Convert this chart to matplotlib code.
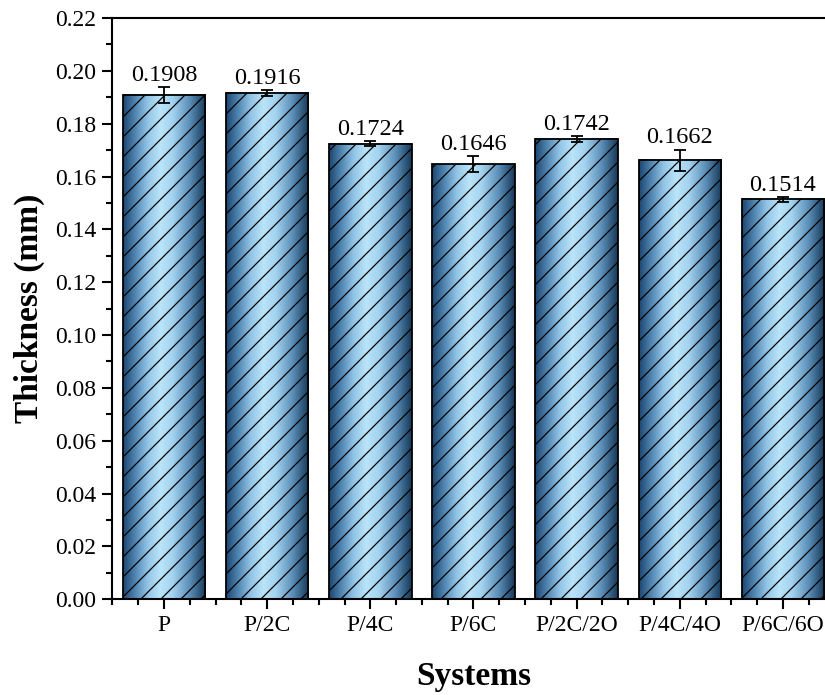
import numpy as np
import matplotlib
matplotlib.use("Agg")
import matplotlib.pyplot as plt
from matplotlib.colors import LinearSegmentedColormap
from matplotlib.ticker import MultipleLocator, FormatStrFormatter

systems = ["P", "P/2C", "P/4C", "P/6C", "P/2C/2O", "P/4C/4O", "P/6C/6O"]
thickness = [0.1908, 0.1916, 0.1724, 0.1646, 0.1742, 0.1662, 0.1514]
errors = [0.003, 0.001, 0.001, 0.003, 0.001, 0.004, 0.0009]

# render at 120 dpi so the hatch spacing matches; sizes below are scaled back
DPI = 120
k = 100 / DPI

plt.rcParams["font.family"] = ["Liberation Serif", "DejaVu Serif"]
plt.rcParams["hatch.linewidth"] = 0.9 * k
plt.rcParams["hatch.color"] = "black"

fig = plt.figure(figsize=(825 / DPI, 695 / DPI), dpi=DPI)
ax = fig.add_axes([0.1362, 0.1377, 0.8754, 0.8364])

# horizontal gradient for the bar fill: dark edges, light centre
cmap = LinearSegmentedColormap.from_list(
    "bar", [(0.0, "#1b4670"), (0.15, "#5287b2"), (0.3, "#92c5e6"),
            (0.45, "#bae4f9"), (0.6, "#a3d3ef"), (0.8, "#5d90b9"), (1.0, "#153859")])
grad = np.linspace(0, 1, 256).reshape(1, -1)

x = np.arange(len(systems))
width = 0.8
for xi, h in zip(x, thickness):
    ax.imshow(grad, cmap=cmap, aspect="auto", zorder=1,
              extent=[xi - width / 2, xi + width / 2, 0, h])

ax.bar(x, thickness, width=width, fill=False, hatch="//",
       edgecolor="black", linewidth=1.3 * k, zorder=2)
ax.errorbar(x, thickness, yerr=errors, fmt="none", ecolor="black",
            elinewidth=1.3 * k, capsize=4.5 * k, capthick=1.3 * k, zorder=3)

for xi, h, e in zip(x, thickness, errors):
    ax.annotate(f"{h:.4f}", (xi, h + e), xytext=(0, 4.5 * k), textcoords="offset points",
                ha="center", va="baseline", fontsize=17.5 * k)

ax.set_xlim(-0.5, 6.5)
ax.set_ylim(0, 0.22)
ax.set_xticks(x)
ax.set_xticklabels(systems)
ax.xaxis.set_minor_locator(MultipleLocator(0.25))
ax.yaxis.set_major_locator(MultipleLocator(0.02))
ax.yaxis.set_minor_locator(MultipleLocator(0.01))
ax.yaxis.set_major_formatter(FormatStrFormatter("%.2f"))

ax.tick_params(which="major", direction="out", length=7.5 * k, width=1.5 * k,
               labelsize=17 * k, pad=4 * k)
ax.tick_params(which="minor", direction="out", length=4 * k, width=1.5 * k)
for s in ax.spines.values():
    s.set_linewidth(1.5 * k)

ax.set_ylabel("Thickness (mm)", fontsize=24 * k, fontweight="bold", labelpad=7 * k)
ax.set_xlabel("Systems", fontsize=24 * k, fontweight="bold", labelpad=18 * k)

fig.savefig("out.png", dpi=DPI, facecolor="white")
